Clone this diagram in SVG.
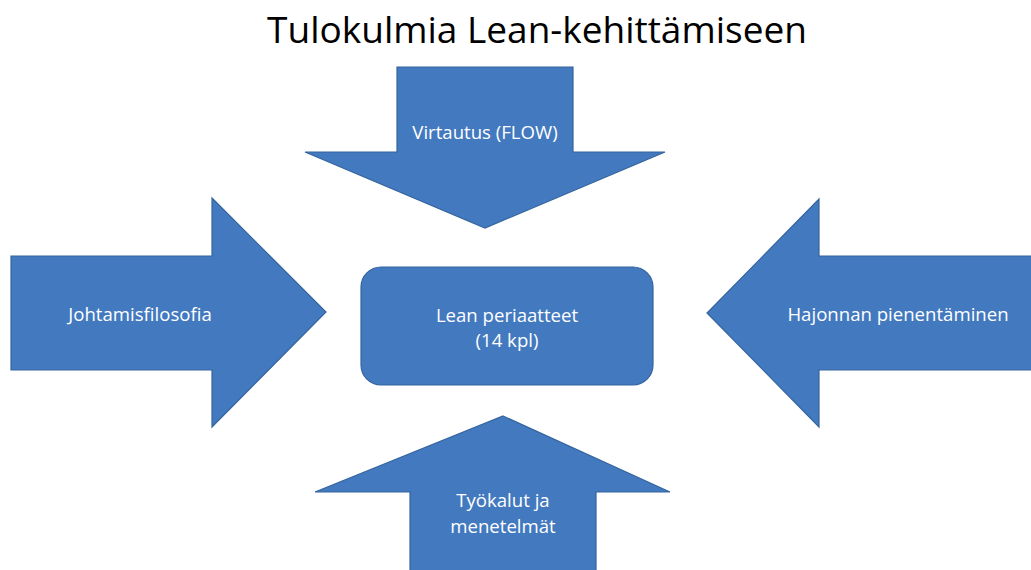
<svg xmlns="http://www.w3.org/2000/svg" width="1031" height="570" viewBox="0 0 1031 570">
<style>
.shape{fill:#4279BF;stroke:#35649E;stroke-width:1.2}
.lbl{font-family:"Open Sans","Liberation Sans",sans-serif;font-size:18.6px;fill:#ffffff;text-anchor:middle}
.title{font-family:"Open Sans","Liberation Sans",sans-serif;font-size:37px;fill:#000;text-anchor:middle}
</style>
<rect width="1031" height="570" fill="#ffffff"/>
<text class="title" x="537" y="43">Tulokulmia Lean-kehittämiseen</text>
<g id="connectors"></g>
<g id="node-top">
<polygon class="shape" points="397,67 573,67 573,152 665,152 485,228 305,152 397,152"/>
<text class="lbl" x="485" y="139">Virtautus (FLOW)</text>
</g>
<g id="node-left">
<polygon class="shape" points="11,256 212,256 212,198 326,312 212,427 212,370 11,370"/>
<text class="lbl" x="140" y="321">Johtamisfilosofia</text>
</g>
<g id="node-right">
<polygon class="shape" points="1032,256 819,256 819,199 707,313 819,427 819,370 1032,370"/>
<text class="lbl" x="898" y="321">Hajonnan pienentäminen</text>
</g>
<g id="node-bottom">
<polygon class="shape" points="503,416 670,492 596,492 596,572 410,572 410,492 315,492"/>
<text class="lbl" x="503" y="507">Työkalut ja</text>
<text class="lbl" x="503" y="533">menetelmät</text>
</g>
<g id="node-center">
<rect class="shape" x="361" y="267" width="292" height="118" rx="20" ry="20"/>
<text class="lbl" x="507" y="322">Lean periaatteet</text>
<text class="lbl" x="507" y="347">(14 kpl)</text>
</g>
</svg>
